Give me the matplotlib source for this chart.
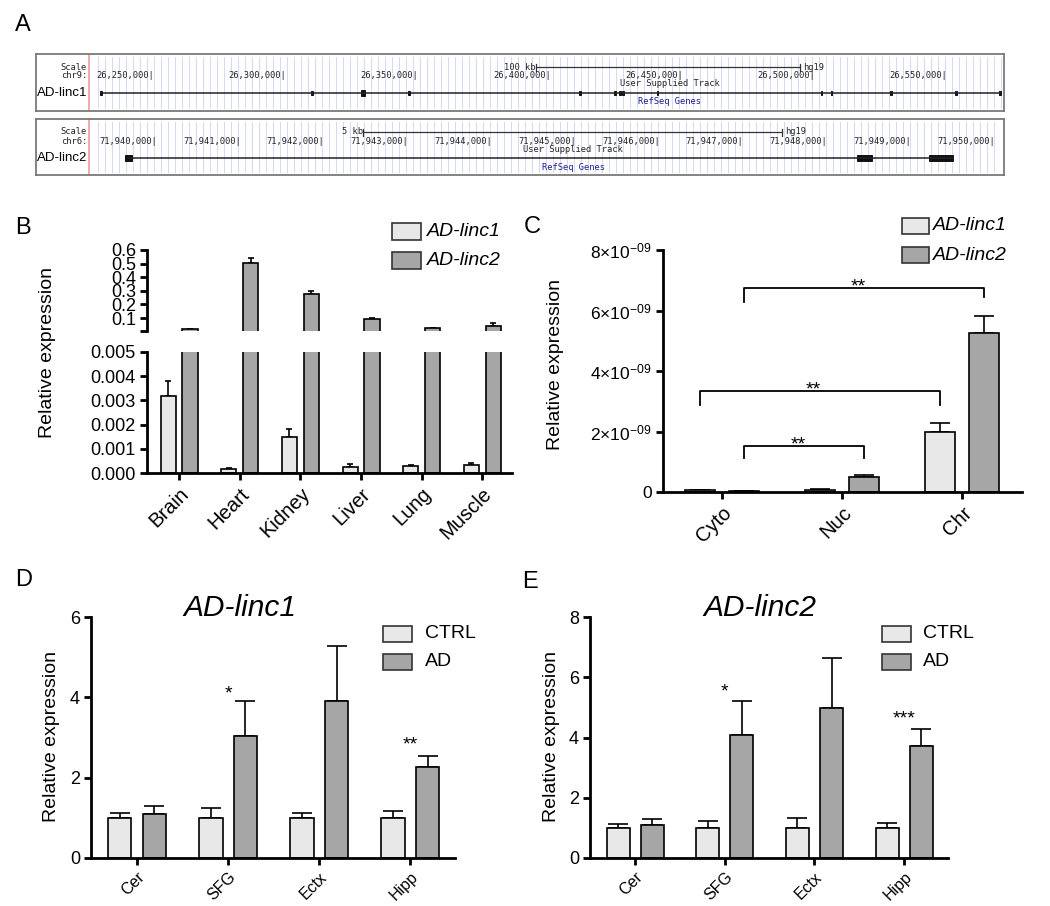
import numpy as np
import matplotlib
matplotlib.use("Agg")
import matplotlib.pyplot as plt
from matplotlib.patches import Rectangle

plt.rcParams['font.family'] = ['Liberation Sans', 'DejaVu Sans']
plt.rcParams['mathtext.fontset'] = 'custom'
plt.rcParams['mathtext.rm'] = 'Liberation Sans'
plt.rcParams['mathtext.default'] = 'regular'

# ---- data -------------------------------------------------------------
# panel A: genome browser tracks (hg19)
linc1_coords = [26250000, 26300000, 26350000, 26400000, 26450000, 26500000, 26550000]
linc1_exons = [(26229700, 26230200), (26309500, 26310000), (26328300, 26329900),
               (26346200, 26346700), (26410800, 26411300), (26424000, 26424500),
               (26425900, 26426400), (26427100, 26427600), (26440000, 26440500),
               (26502000, 26502500), (26505800, 26506300), (26528400, 26528900),
               (26553000, 26553500), (26569600, 26570100)]
linc1_span = (26229900, 26569900)
linc1_scale = (26394400, 26494400)

linc2_coords = list(range(71940000, 71950001, 1000))
linc2_exons = [(71939620, 71939700), (71948353, 71948532), (71949212, 71949499)]
linc2_span = (71939650, 71949499)
linc2_scale = (71942458, 71947458)

# panel B: tissue expression
tissues = ['Brain', 'Heart', 'Kidney', 'Liver', 'Lung', 'Muscle']
b_linc1 = [0.00318, 0.000165, 0.00149, 0.00025, 0.00029, 0.00033]
b_linc1_err = [0.00062, 0.00005, 0.00033, 0.00012, 0.00002, 0.00008]
b_linc2 = [0.019, 0.504, 0.276, 0.093, 0.026, 0.040]
b_linc2_err = [0.002, 0.036, 0.024, 0.004, 0.002, 0.022]

# panel C: subcellular fractions (x 1e-9)
fractions = ['Cyto', 'Nuc', 'Chr']
c_linc1 = [0.06, 0.08, 1.98]
c_linc1_err = [0.01, 0.01, 0.30]
c_linc2 = [0.02, 0.50, 5.26]
c_linc2_err = [0.005, 0.06, 0.56]
# (group, series) -> (group, series), bracket height, left leg end, right leg end
c_brackets = [((0, 1), (2, 1), 6.74, 6.28, 6.45),
              ((0, 0), (2, 0), 3.34, 2.88, 2.88),
              ((0, 1), (1, 1), 1.52, 1.12, 1.12)]

# panels D / E: brain regions CTRL vs AD
regions = ['Cer', 'SFG', 'Ectx', 'Hipp']
d_ctrl = [1.0, 1.0, 1.0, 1.0]
d_ctrl_err = [0.12, 0.24, 0.12, 0.17]
d_ad = [1.09, 3.03, 3.90, 2.26]
d_ad_err = [0.20, 0.87, 1.37, 0.28]
d_sig = [(1, '*', 3.98), (3, '**', 2.69)]

e_ctrl = [1.0, 1.0, 1.0, 1.0]
e_ctrl_err = [0.13, 0.23, 0.33, 0.16]
e_ad = [1.10, 4.09, 4.98, 3.72]
e_ad_err = [0.20, 1.13, 1.66, 0.57]
e_sig = [(1, '*', 5.35), (3, '***', 4.48)]

LIGHT = '#e8e8e8'
DARK = '#a6a6a6'

W, H = 1050, 906
fig = plt.figure(figsize=(W / 100, H / 100), dpi=100)


def px_axes(x0, y0, x1, y1):
    return fig.add_axes([x0 / W, 1 - y1 / H, (x1 - x0) / W, (y1 - y0) / H])


def fig_text(x, y, s, **kw):
    fig.text(x / W, 1 - y / H, s, **kw)


def draw_track(box, ref_px, ref_g, bp_per_px, chrom, name, coords, span, exons,
               exon_h, scale, scale_txt, track_px, refseq_px):
    x0, y0, x1, y1 = box
    ax = px_axes(*box)
    ax.set_xlim(ref_g + (x0 - ref_px) * bp_per_px, ref_g + (x1 - ref_px) * bp_per_px)
    ax.set_ylim(y1 - y0, 0)
    ax.set_xticks([])
    ax.set_yticks([])
    for s in ax.spines.values():
        s.set_color('#7a7a7a')
        s.set_linewidth(1.3)
    g = lambda px: ref_g + (px - ref_px) * bp_per_px
    red = g(89)
    for gx in np.arange(red + 9 * bp_per_px, g(x1 - 3), 7.0 * bp_per_px):
        ax.plot([gx, gx], [3, y1 - y0 - 3], color='#d4d9f4', lw=0.7, zorder=0)
    ax.axvline(red, color='#f2a2a2', lw=1.3)
    mono = dict(family='DejaVu Sans Mono', fontsize=6.3, color='#222222')
    ax.text(g(87), 13, 'Scale', ha='right', va='center', **mono)
    ax.text(g(87), 22, chrom + ':', ha='right', va='center', **mono)
    ax.text(g(87), 39, name, ha='right', va='center', fontsize=9.5)
    for c in coords:
        ax.text(c, 22, f'{c:,}|', ha='right', va='center', **mono)
    ax.plot(scale, [13, 13], color='#333333', lw=0.9)
    for sx in scale:
        ax.plot([sx, sx], [9.5, 16.5], color='#333333', lw=0.9)
    ax.text(scale[0], 13, scale_txt, ha='right', va='center', **mono)
    ax.text(scale[1] + 3 * bp_per_px, 13, 'hg19', ha='left', va='center', **mono)
    ax.text(g(track_px), 30, 'User Supplied Track', ha='left', va='center', **mono)
    ax.text(g(refseq_px), 48, 'RefSeq Genes', ha='left', va='center',
            family='DejaVu Sans Mono', fontsize=6.3, color='#1c1c90')
    ax.plot(span, [39, 39], color='#222222', lw=1.1)
    for (a, b), h in zip(exons, exon_h):
        ax.add_patch(Rectangle((a, 39 - h / 2), b - a, h, facecolor='#111111',
                               edgecolor='#111111', lw=0.7))


def style_axes(ax, lw=2.0):
    for s in ['top', 'right']:
        ax.spines[s].set_visible(False)
    for s in ['left', 'bottom']:
        ax.spines[s].set_linewidth(lw)
    ax.tick_params(direction='out', length=5, width=lw, labelsize=13, pad=3)
    ax.set_facecolor('none')


def bars(ax, x, vals, errs, off, width, color, capsize):
    ax.bar(x + off, vals, width, color=color, edgecolor='black', linewidth=1.2, zorder=2)
    ax.errorbar(x + off, vals, yerr=[np.zeros(len(vals)), errs], fmt='none',
                ecolor='black', elinewidth=1.2, capsize=capsize, capthick=1.2, zorder=1)


def legend_px(x, y_tops, w, h, colors, labels, italic, fontsize=14, tx=None):
    for yt, c, lab in zip(y_tops, colors, labels):
        fig.patches.append(Rectangle((x / W, 1 - (yt + h) / H), w / W, h / H,
                                     transform=fig.transFigure, facecolor=c,
                                     edgecolor='#333333', lw=1.2))
        fig_text(tx, yt + h / 2, lab, ha='left', va='center', fontsize=fontsize,
                 style='italic' if italic else 'normal')


# ---- panel A ----------------------------------------------------------
fig_text(23, 25, 'A', fontsize=17, ha='center', va='center')
draw_track((36, 54, 1004, 111), 154, 26250000, 1 / 0.002645, 'chr9', 'AD-linc1',
           linc1_coords, linc1_span, linc1_exons,
           [4, 4, 6, 4, 4, 4, 4, 4, 4, 4, 4, 4, 4, 4], linc1_scale, '100 kb', 620, 638)
draw_track((36, 119, 1004, 175), 157, 71940000, 1 / 0.0838, 'chr6', 'AD-linc2',
           linc2_coords, linc2_span, linc2_exons, [6, 6, 6], linc2_scale, '5 kb',
           523, 542)

# ---- panel B ----------------------------------------------------------
fig_text(23, 228, 'B', fontsize=17, ha='center', va='center')
xb = np.arange(len(tissues))
axb_lo = px_axes(147, 352, 512, 473)
axb_hi = px_axes(147, 250, 512, 331)
for ax in (axb_lo, axb_hi):
    style_axes(ax)
    ax.set_xlim(-0.53, 5.49)
# linc1 never reaches the upper segment, so it is drawn in the lower one only
bars(axb_lo, xb, b_linc1, b_linc1_err, -0.18, 0.25, LIGHT, 2.5)
bars(axb_lo, xb, b_linc2, b_linc2_err, 0.18, 0.25, DARK, 2.5)
bars(axb_hi, xb, b_linc2, b_linc2_err, 0.18, 0.25, DARK, 2.5)
axb_lo.set_ylim(0, 0.005)
axb_lo.set_yticks(np.arange(0, 0.0051, 0.001))
axb_lo.set_yticklabels([f'{v:.3f}' for v in np.arange(0, 0.0051, 0.001)])
axb_lo.set_xticks(xb)
axb_lo.set_xticklabels(tissues, rotation=45, ha='right', rotation_mode='anchor',
                       fontsize=14.5)
axb_hi.set_ylim(0.005, 0.6)
axb_hi.spines['bottom'].set_visible(False)
axb_hi.set_xticks([])
axb_hi.set_yticks([0.005, 0.1, 0.2, 0.3, 0.4, 0.5, 0.6])
axb_hi.set_yticklabels(['', '0.1', '0.2', '0.3', '0.4', '0.5', '0.6'])
fig_text(48, 353, 'Relative expression', rotation=90, ha='center', va='center',
         fontsize=14)
legend_px(392, [223, 252], 29, 17, [LIGHT, DARK], ['AD-linc1', 'AD-linc2'], True, tx=427)

# ---- panel C ----------------------------------------------------------
fig_text(532, 227, 'C', fontsize=17, ha='center', va='center')
xc = np.arange(len(fractions))
axc = px_axes(663, 250, 1022, 492)
style_axes(axc)
c_off = [-0.185, 0.185]
bars(axc, xc, np.array(c_linc1) * 1e-9, np.array(c_linc1_err) * 1e-9, c_off[0], 0.25,
     LIGHT, 7)
bars(axc, xc, np.array(c_linc2) * 1e-9, np.array(c_linc2_err) * 1e-9, c_off[1], 0.25,
     DARK, 7)
axc.set_xlim(-0.49, 2.5)
axc.set_ylim(0, 8e-9)
axc.set_yticks([0, 2e-9, 4e-9, 6e-9, 8e-9])
axc.set_yticklabels(['0'] + [f'{v}×10$^{{-09}}$' for v in (2, 4, 6, 8)], fontsize=12.5)
axc.set_xticks(xc)
axc.set_xticklabels(fractions, rotation=45, ha='right', rotation_mode='anchor',
                    fontsize=14.5)
for (ga, sa), (gb, sb), yb, la, lb in c_brackets:
    xa = ga + c_off[sa]
    xbk = gb + c_off[sb]
    axc.plot([xa, xa, xbk, xbk], [la * 1e-9, yb * 1e-9, yb * 1e-9, lb * 1e-9],
             color='black', lw=1.3)
    axc.text((xa + xbk) / 2 - 0.05, (yb - 0.1) * 1e-9, '**', ha='center',
             va='baseline', fontsize=14)
fig_text(555, 365, 'Relative expression', rotation=90, ha='center', va='center',
         fontsize=14)
legend_px(902, [218, 247], 27, 16, [LIGHT, DARK], ['AD-linc1', 'AD-linc2'], True, tx=933)


# ---- panels D / E -----------------------------------------------------
def region_panel(box, ymax, ctrl, ctrl_err, ad, ad_err, sig, title, title_x, ylab_x,
                 leg_x, leg_tx, letter_xy, letter):
    fig_text(*letter_xy, letter, fontsize=17, ha='center', va='center')
    ax = px_axes(*box)
    style_axes(ax)
    x = np.arange(len(regions))
    bars(ax, x, ctrl, ctrl_err, -0.19, 0.258, LIGHT, 7.5)
    bars(ax, x, ad, ad_err, 0.19, 0.258, DARK, 7.5)
    ax.set_xlim(-0.505, 3.49)
    ax.set_ylim(0, ymax)
    ax.set_yticks(np.arange(0, ymax + 1, 2))
    ax.set_xticks(x)
    ax.set_xticklabels(regions, rotation=45, ha='right', rotation_mode='anchor',
                       fontsize=11.5)
    for i, s, y in sig:
        ax.text(i, y, s, ha='center', va='baseline', fontsize=14)
    fig_text(title_x, 608, title, ha='center', va='center', fontsize=21.5, style='italic')
    fig_text(ylab_x, 737, 'Relative expression', rotation=90, ha='center',
             va='center', fontsize=14)
    legend_px(leg_x, [626, 654], 29, 16, [LIGHT, DARK], ['CTRL', 'AD'], False, tx=leg_tx)


region_panel((91, 617, 455, 858), 6, d_ctrl, d_ctrl_err, d_ad, d_ad_err, d_sig,
             'AD-linc1', 240, 52, 383, 425, (24, 580), 'D')
region_panel((590, 617, 948, 858), 8, e_ctrl, e_ctrl_err, e_ad, e_ad_err, e_sig,
             'AD-linc2', 760, 552, 882, 923, (530, 582), 'E')

fig.savefig('out.png', dpi=100)
